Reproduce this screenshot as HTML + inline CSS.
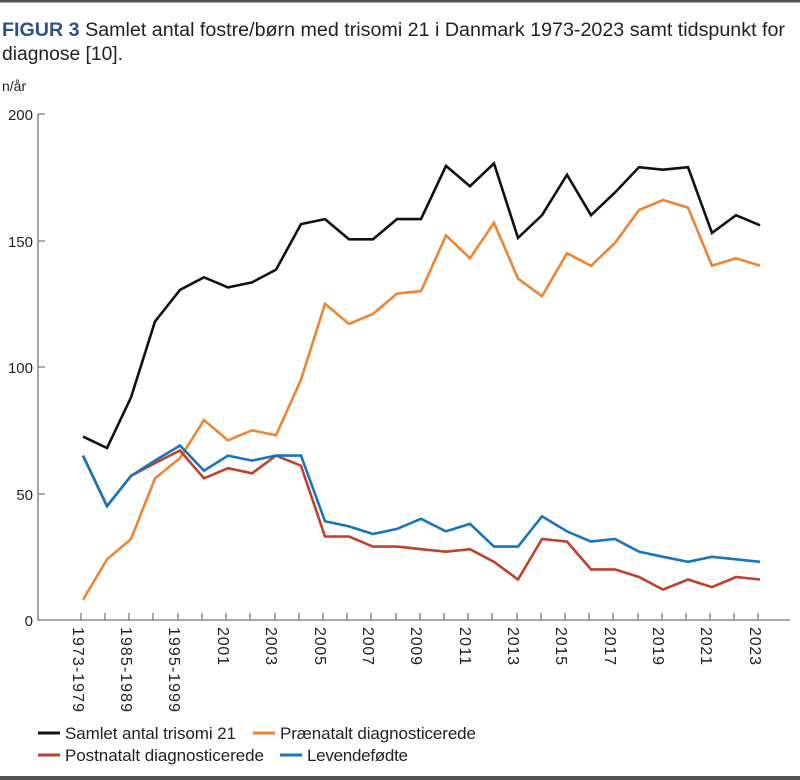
<!DOCTYPE html>
<html><head><meta charset="utf-8"><style>
body{margin:0;background:#fff;}
svg{display:block;font-family:"Liberation Sans",sans-serif;}
</style></head><body>
<svg width="800" height="780" viewBox="0 0 800 780" xmlns="http://www.w3.org/2000/svg">
<rect x="0" y="0" width="800" height="2.5" fill="#555"/>
<rect x="0" y="776" width="800" height="4" fill="#555"/>
<text x="2" y="36" font-size="19" fill="#222" textLength="783" lengthAdjust="spacingAndGlyphs"><tspan fill="#2d4f8e" font-weight="bold">FIGUR 3</tspan> Samlet antal fostre/børn med trisomi 21 i Danmark 1973-2023 samt tidspunkt for</text>
<text x="2" y="60" font-size="19" fill="#222" textLength="121" lengthAdjust="spacingAndGlyphs">diagnose [10].</text>
<text x="2" y="91" font-size="14" fill="#222">n/år</text>
<g font-size="15" fill="#222" text-anchor="end">
<text x="33" y="120">200</text>
<text x="33" y="247">150</text>
<text x="33" y="373">100</text>
<text x="33" y="500">50</text>
<text x="33" y="626">0</text>
</g>
<g stroke="#777" stroke-width="1.3" fill="none">
<path d="M38,114 V620 H790"/>
<path d="M38,114 H45 M38,241 H45 M38,367 H45 M38,494 H45"/>
<path d="M81,613V620M105,613V620M129,613V620M153,613V620M178,613V620M202,613V620M226,613V620M250,613V620M275,613V620M299,613V620M323,613V620M347,613V620M371,613V620M396,613V620M420,613V620M444,613V620M468,613V620M492,613V620M517,613V620M541,613V620M565,613V620M589,613V620M613,613V620M638,613V620M662,613V620M686,613V620M710,613V620M734,613V620M758,613V620"/>
</g>
<g font-size="16" fill="#222" lengthAdjust="spacingAndGlyphs">
<text transform="translate(73,627) rotate(90)" textLength="85">1973-1979</text>
<text transform="translate(121,627) rotate(90)" textLength="85">1985-1989</text>
<text transform="translate(169,627) rotate(90)" textLength="85">1995-1999</text>
<text transform="translate(218,627) rotate(90)" textLength="38">2001</text>
<text transform="translate(266,627) rotate(90)" textLength="38">2003</text>
<text transform="translate(315,627) rotate(90)" textLength="38">2005</text>
<text transform="translate(363,627) rotate(90)" textLength="38">2007</text>
<text transform="translate(411,627) rotate(90)" textLength="38">2009</text>
<text transform="translate(460,627) rotate(90)" textLength="38">2011</text>
<text transform="translate(508,627) rotate(90)" textLength="38">2013</text>
<text transform="translate(556,627) rotate(90)" textLength="38">2015</text>
<text transform="translate(605,627) rotate(90)" textLength="38">2017</text>
<text transform="translate(653,627) rotate(90)" textLength="38">2019</text>
<text transform="translate(701,627) rotate(90)" textLength="38">2021</text>
<text transform="translate(750,627) rotate(90)" textLength="38">2023</text>
</g>
<g fill="none" stroke-width="2.6" stroke-linejoin="miter">
<polyline stroke="#111" points="83,436.6 107,448 131,397.4 155,321.5 180,289.9 204,277.3 228,287.4 252,282.4 276,269.7 301,224.1 325,219.1 349,239.3 373,239.3 397,219.1 421,219.1 446,165.9 470,186.2 494,163.4 518,237.9 542,215.2 567,174.7 591,215.2 615,192.5 639,167.2 663,169.7 688,167.2 712,232.9 736,215.2 760,225.3"/>
<polyline stroke="#ef8533" points="83,599.8 107,559.3 131,539 155,478.3 180,458.1 204,420.1 228,440.4 252,430.3 276,435.3 301,379.7 325,303.8 349,324 373,313.9 397,293.6 421,291.1 446,235.4 470,258.2 494,222.8 518,278.5 542,296.2 567,253.2 591,265.8 615,243 639,210.1 663,200 688,207.6 712,265.8 736,258.2 760,265.8"/>
<polyline stroke="#c0412b" points="83,455.6 107,506.2 131,475.8 155,463.1 180,450.5 204,478.3 228,468.2 252,473.3 276,455.6 301,465.7 325,536.5 349,536.5 373,546.6 397,546.6 421,549.2 446,551.7 470,549.2 494,561.8 518,579.5 542,539 567,541.6 591,569.4 615,569.4 639,577 663,589.6 688,579.5 712,587.1 736,577 760,579.5"/>
<polyline stroke="#1576bc" points="83,455.6 107,506.2 131,475.8 155,460.6 180,445.5 204,470.7 228,455.6 252,460.6 276,455.6 301,455.6 325,521.3 349,526.4 373,534 397,528.9 421,518.8 446,531.4 470,523.9 494,546.6 518,546.6 542,516.3 567,531.4 591,541.6 615,539 639,551.7 663,556.8 688,561.8 712,556.8 736,559.3 760,561.8"/>
</g>
<g stroke-width="3">
<line x1="38" y1="733" x2="60" y2="733" stroke="#111"/>
<line x1="253" y1="733" x2="275" y2="733" stroke="#ef8533"/>
<line x1="38" y1="755" x2="60" y2="755" stroke="#c0412b"/>
<line x1="280" y1="755" x2="302" y2="755" stroke="#1576bc"/>
</g>
<g font-size="17" fill="#222" lengthAdjust="spacingAndGlyphs">
<text x="65" y="739" textLength="171">Samlet antal trisomi 21</text>
<text x="280" y="739" textLength="196">Prænatalt diagnosticerede</text>
<text x="65" y="761" textLength="199">Postnatalt diagnosticerede</text>
<text x="307" y="761" textLength="101">Levendefødte</text>
</g>
</svg>
</body></html>
